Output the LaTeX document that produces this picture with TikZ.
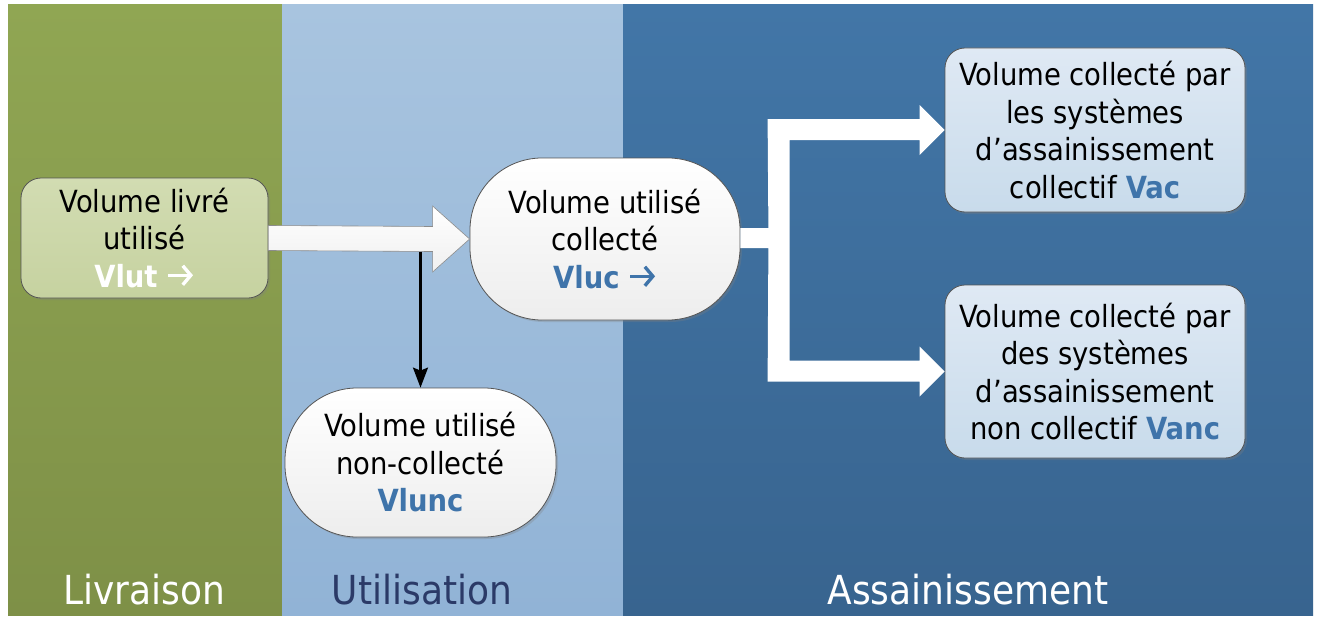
\documentclass[tikz,border=0pt]{standalone}
\usepackage{fontspec}
\setmainfont{DejaVu Sans Condensed}
\usetikzlibrary{shadows,calc,arrows.meta}
\definecolor{grT}{HTML}{90A653}
\definecolor{grB}{HTML}{7E9047}
\definecolor{lbT}{HTML}{A8C4DF}
\definecolor{lbB}{HTML}{91B3D6}
\definecolor{dbT}{HTML}{4276A7}
\definecolor{dbB}{HTML}{38648F}
\definecolor{bxgT}{HTML}{D2DCB2}
\definecolor{bxgB}{HTML}{C6D2A0}
\definecolor{bxbT}{HTML}{DFE9F4}
\definecolor{bxbB}{HTML}{C8DBEB}
\definecolor{keyblue}{HTML}{3F74AA}
\definecolor{navy}{HTML}{2B3A67}
\definecolor{edge}{HTML}{555555}
\newcommand{\rarr}[1]{\raisebox{1pt}{\tikz{\path (0pt,0pt) -- (0pt,18pt);
  \draw[draw=#1, line width=3.4pt, -{Straight Barb[length=8pt,width=19pt]}] (0pt,9pt) -- (25pt,9pt);}}}
\tikzset{
  box/.style={draw=edge, line width=0.8pt, align=center, inner sep=0pt,
    font=\fontsize{30.5}{37.5}\selectfont,
    drop shadow={opacity=0.3, shadow xshift=2pt, shadow yshift=-2pt}},
  greenbox/.style={box, top color=bxgT, bottom color=bxgB, rounded corners=20pt,
    minimum width=247pt, minimum height=120pt},
  bluebox/.style={box, top color=bxbT, bottom color=bxbB, rounded corners=20pt,
    minimum width=300pt},
  pill/.style={box, top color=white, bottom color=black!7, rounded corners=72pt,
    minimum width=270pt},
  lane/.style={font=\fontsize{40}{44}\selectfont},
}
\begin{document}
\begin{tikzpicture}[x=1pt,y=-1pt]
\useasboundingbox (0,0) rectangle (1317,618);
\fill[white] (0,0) rectangle (1317,618);
% lanes
\shade[top color=grT, bottom color=grB] (8,5) rectangle (282,615);
\shade[top color=lbT, bottom color=lbB] (282,5) rectangle (623,615);
\shade[top color=dbT, bottom color=dbB] (623,5) rectangle (1313,615);
\node[lane, text=white] (l1) at (144,590) {Livraison};
\node[lane, text=navy] (l2) at (422,590) {Utilisation};
\node[lane, text=white] (l3) at (968,590) {Assainissement};
% nodes
\node[greenbox] (vlut) at (144.5,238) {Volume livré\\utilisé\\\textcolor{white}{\bfseries Vlut} \rarr{white}};
\node[pill, minimum height=162pt] (vluc) at (605,239) {Volume utilisé\\collecté\\\textcolor{keyblue}{\bfseries Vluc} \rarr{keyblue}};
\node[pill, minimum height=149pt, minimum width=271pt] (vlunc) at (420.5,462.5) {Volume utilisé\\non-collecté\\\textcolor{keyblue}{\bfseries Vlunc}};
\node[bluebox, minimum height=164pt] (vac) at (1095,130) {Volume collecté par\\les systèmes\\d’assainissement\\collectif \textcolor{keyblue}{\bfseries Vac}};
\node[bluebox, minimum height=173pt] (vanc) at (1095,371.5) {Volume collecté par\\des systèmes\\d’assainissement\\non collectif \textcolor{keyblue}{\bfseries Vanc}};
% big arrow vlut -> vluc
\draw[draw=black!45, line width=0.6pt, top color=white, bottom color=black!6]
  ($(vlut.east)+(0,-12.5)$) -- ($(vluc.west)+(-37,-12.5)$) -- ($(vluc.west)+(-37,-33)$)
  -- (vluc.west) -- ($(vluc.west)+(-37,33)$) -- ($(vluc.west)+(-37,12.5)$)
  -- ($(vlut.east)+(0,12.5)$) -- cycle;
% thin arrow to vlunc
\coordinate (split) at ($(vlunc.north |- vluc.west)+(0,12.5)$);
\draw[-{Stealth[length=20pt,width=15pt,inset=3pt]}, line width=2.2pt] (split) -- (vlunc.north);
% elbow arrows vluc -> vac / vanc
\fill[white]
  ($(vluc.east)+(0,-11)$) -- ($(vluc.east)+(28,-11)$) -- ($(vac.west)+(-177,-11)$)
  -- ($(vac.west)+(-25,-11)$) -- ($(vac.west)+(-25,-25)$) -- (vac.west)
  -- ($(vac.west)+(-25,25)$) -- ($(vac.west)+(-25,10)$) -- ($(vac.west)+(-155,10)$)
  -- ($(vanc.west)+(-155,-11)$) -- ($(vanc.west)+(-25,-11)$) -- ($(vanc.west)+(-25,-25)$)
  -- (vanc.west) -- ($(vanc.west)+(-25,25)$) -- ($(vanc.west)+(-25,10)$)
  -- ($(vanc.west)+(-177,10)$) -- ($(vluc.east)+(28,9)$) -- ($(vluc.east)+(0,9)$) -- cycle;
\end{tikzpicture}
\end{document}
